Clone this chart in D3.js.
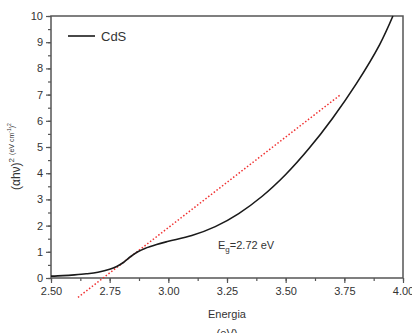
<!DOCTYPE html>
<html>
<head>
<meta charset="utf-8">
<script src="https://cdn.jsdelivr.net/npm/d3@7"></script>
<style>
  body { margin: 0; background: #fff; }
  svg text { font-family: "Liberation Sans", Arial, sans-serif; fill: #333; }
</style>
</head>
<body>
<svg id="chart" width="412" height="333"></svg>
<script>
// energy (eV) and (alpha h nu)^2
var energy = [2.50, 2.55, 2.60, 2.65, 2.70, 2.75, 2.78, 2.81, 2.84, 2.87, 2.90, 2.95,
              3.00, 3.10, 3.20, 3.30, 3.40, 3.50, 3.60, 3.70, 3.80, 3.90, 3.957];
var absorb = [0.07, 0.09, 0.12, 0.16, 0.22, 0.33, 0.44, 0.60, 0.82, 1.00, 1.13, 1.28,
              1.40, 1.62, 1.96, 2.46, 3.12, 3.95, 4.95, 6.10, 7.40, 8.90, 10.0];
// tangent fit, Eg = 2.72 eV
var fitX = [2.615, 3.73];
var fitY = [-0.74, 6.97];
var xTicks = [2.50, 2.75, 3.00, 3.25, 3.50, 3.75, 4.00];
var yTicks = [0, 1, 2, 3, 4, 5, 6, 7, 8, 9, 10];

var svg = d3.select("#chart");
var mLeft = 51, mRight = 403, mTop = 16, mBottom = 278;

var x = d3.scaleLinear().domain([2.5, 4.0]).range([mLeft, mRight]);
var y = d3.scaleLinear().domain([0, 10]).range([mBottom, mTop]);

var axisColor = "#555";

// minor ticks
var xMinor = d3.range(2.5, 4.0001, 0.125);
var yMinor = d3.range(0, 10.001, 0.5);

var gx = svg.append("g").attr("transform", "translate(0," + mBottom + ")")
    .call(d3.axisBottom(x).tickValues(xMinor).tickSize(3).tickFormat(""));
var gx2 = svg.append("g").attr("transform", "translate(0," + mBottom + ")")
    .call(d3.axisBottom(x).tickValues(xTicks).tickSize(5).tickPadding(4)
        .tickFormat(d3.format(".2f")));
var gy = svg.append("g").attr("transform", "translate(" + mLeft + ",0)")
    .call(d3.axisLeft(y).tickValues(yMinor).tickSize(3).tickFormat(""));
var gy2 = svg.append("g").attr("transform", "translate(" + mLeft + ",0)")
    .call(d3.axisLeft(y).tickValues(yTicks).tickSize(5).tickPadding(3));

[gx, gx2, gy, gy2].forEach(function(g) {
    g.select(".domain").remove();
    g.selectAll("line").attr("stroke", axisColor).attr("stroke-width", 1.2);
    g.selectAll("text").style("font-size", "11px").attr("fill", "#333");
});

// frame
svg.append("rect")
    .attr("x", mLeft).attr("y", mTop)
    .attr("width", mRight - mLeft).attr("height", mBottom - mTop)
    .attr("fill", "none").attr("stroke", axisColor).attr("stroke-width", 1.5);

// fit line
var line = d3.line()
    .x(function(d) { return x(d[0]); })
    .y(function(d) { return y(d[1]); });

svg.append("path")
    .attr("d", line(d3.zip(fitX, fitY)))
    .attr("fill", "none")
    .attr("stroke", "#f03030")
    .attr("stroke-width", 1.5)
    .attr("stroke-dasharray", "1.5,2");

// data curve
svg.append("path")
    .attr("d", line.curve(d3.curveCatmullRom.alpha(0.5))(d3.zip(energy, absorb)))
    .attr("fill", "none")
    .attr("stroke", "#1a1a1a")
    .attr("stroke-width", 1.6);

// legend
svg.append("line")
    .attr("x1", 68).attr("x2", 95).attr("y1", 36).attr("y2", 36)
    .attr("stroke", "#1a1a1a").attr("stroke-width", 1.6);
svg.append("text")
    .attr("x", 101).attr("y", 41)
    .style("font-size", "13px")
    .text("CdS");

// Eg annotation
var eg = svg.append("text")
    .attr("x", 218).attr("y", 249)
    .style("font-size", "11px");
eg.append("tspan").text("E");
eg.append("tspan").attr("dy", 3).style("font-size", "8px").text("g");
eg.append("tspan").attr("dy", -3).text("=2.72 eV");

// axis titles
svg.append("text")
    .attr("x", 227).attr("y", 318)
    .attr("text-anchor", "middle")
    .style("font-size", "11px")
    .text("Energia");
svg.append("text")
    .attr("x", 227).attr("y", 337)
    .attr("text-anchor", "middle")
    .style("font-size", "11px")
    .text("(eV)");

var yl = svg.append("text")
    .attr("transform", "translate(20,190) rotate(-90)")
    .style("font-size", "12px");
yl.append("tspan").text("(\u03b1h\u03bd)");
yl.append("tspan").attr("dy", -6).style("font-size", "8px").text("2");
yl.append("tspan").attr("dy", 0).attr("dx", 3).style("font-size", "7px").text("(eV cm");
yl.append("tspan").attr("dy", -3).style("font-size", "5px").text("-1");
yl.append("tspan").attr("dy", 3).style("font-size", "7px").text(")");
yl.append("tspan").attr("dy", -3).style("font-size", "5px").text("2");
</script>
</body>
</html>
